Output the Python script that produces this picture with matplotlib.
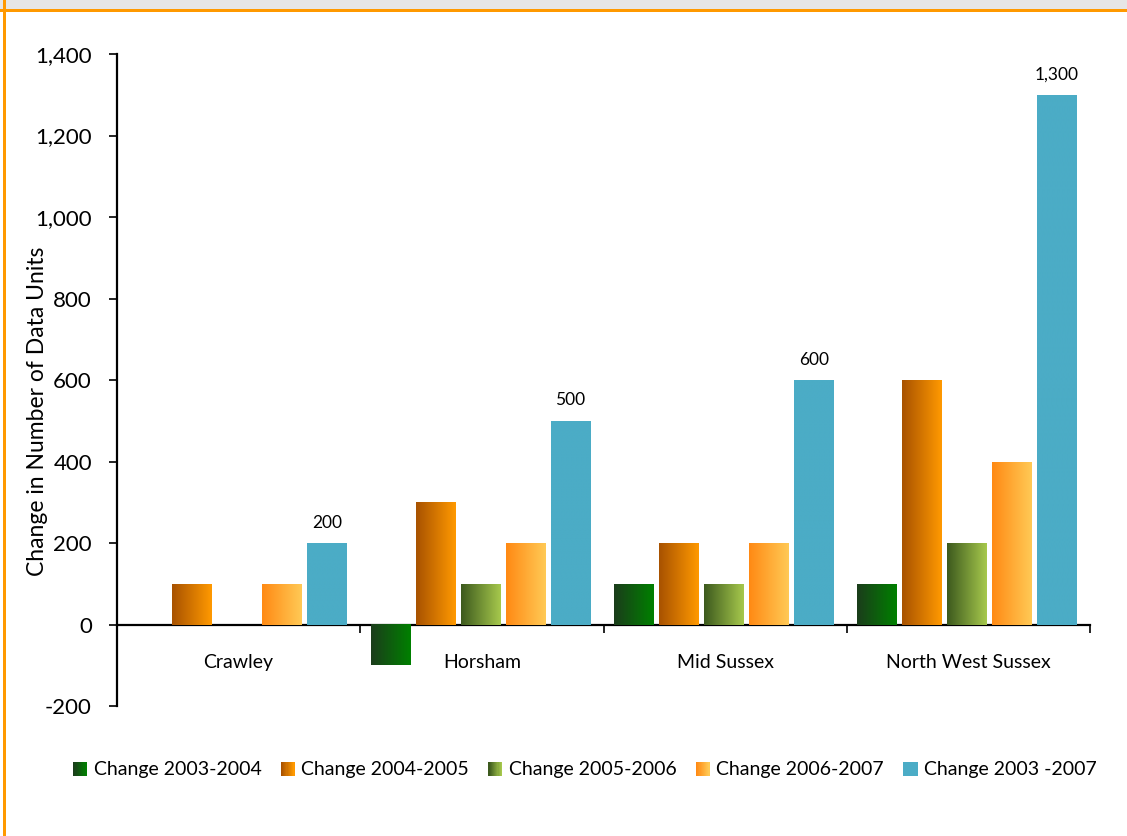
import matplotlib
matplotlib.use("Agg")
import matplotlib.pyplot as plt
import numpy as np
from matplotlib.patches import Rectangle
from matplotlib.legend_handler import HandlerBase
from matplotlib.colors import LinearSegmentedColormap, to_rgb

plt.rcParams['font.family'] = ['Lato', 'DejaVu Sans']

# data
districts = ["Crawley", "Horsham", "Mid Sussex", "North West Sussex"]
series = ["Change 2003-2004", "Change 2004-2005", "Change 2005-2006",
          "Change 2006-2007", "Change 2003 -2007"]
chg_0304 = [0, -100, 100, 100]
chg_0405 = [100, 300, 200, 600]
chg_0506 = [0, 100, 100, 200]
chg_0607 = [100, 200, 200, 400]
chg_0307 = [200, 500, 600, 1300]
values = [chg_0304, chg_0405, chg_0506, chg_0607, chg_0307]

# gradient colours (left -> right) per series
grads = [("#1b3d1b", "#008000"),
         ("#a85200", "#ff9900"),
         ("#3d5a1e", "#a6c84c"),
         ("#ff8a14", "#ffc955"),
         ("#4bacc6", "#4bacc6")]


class GradHandler(HandlerBase):
    def __init__(self, c0, c1):
        super().__init__()
        self.c0, self.c1 = np.array(to_rgb(c0)), np.array(to_rgb(c1))

    def create_artists(self, legend, orig_handle, xdescent, ydescent,
                       width, height, fontsize, trans):
        n = 12
        arts = []
        for k in range(n):
            c = np.clip(self.c0 + (self.c1 - self.c0) * k / (n - 1), 0, 1)
            r = Rectangle((-xdescent + width * k / n, -ydescent), width / n + 0.3,
                          height, facecolor=tuple(c), edgecolor='none', transform=trans)
            arts.append(r)
        return arts


fig = plt.figure(figsize=(11.27, 8.36), dpi=100)
ax = fig.add_axes([0.1038, 0.1555, 0.8634, 0.7799])

x = np.arange(len(districts))
step = 0.185
width = 0.162
handles = []
for i, (vals, (c0, c1)) in enumerate(zip(values, grads)):
    bars = ax.bar(x + (i - 2) * step - 0.006, vals, width, color=c1, edgecolor='none',
                  label=series[i], zorder=2)
    handles.append(bars)
    cmap = LinearSegmentedColormap.from_list("g%d" % i, [c0, c1])
    grad = np.linspace(0, 1, 64).reshape(1, -1)
    for p in bars.patches:
        if p.get_height() == 0:
            continue
        x0, y0 = p.get_x(), p.get_y()
        x1, y1 = x0 + p.get_width(), y0 + p.get_height()
        ax.imshow(grad, cmap=cmap, extent=(x0, x1, min(y0, y1), max(y0, y1)),
                  aspect='auto', zorder=3, interpolation='bilinear')
    if i == 4:
        for xi, v in zip(x + (i - 2) * step - 0.006, vals):
            ax.annotate(f"{v:,}", (xi, v), xytext=(0, 9), textcoords='offset points',
                        ha='center', va='bottom', fontsize=12.5)

ax.set_xlim(-0.5, 3.5)
ax.set_ylim(-200, 1400)
ax.set_yticks(range(-200, 1401, 200))
ax.set_yticklabels([f"{v:,}" for v in range(-200, 1401, 200)], fontsize=16)
ax.set_ylabel("Change in Number of Data Units", fontsize=16.5)
ax.yaxis.set_label_coords(-0.071, 0.452)

ax.spines['top'].set_visible(False)
ax.spines['right'].set_visible(False)
ax.spines['bottom'].set_position(('data', 0))
ax.spines['bottom'].set_linewidth(1.6)
ax.spines['left'].set_linewidth(1.6)
ax.tick_params(axis='y', length=6, width=1.2, direction='out', pad=12)

# category separators as ticks, labels as minor ticks
ax.set_xticks(np.arange(-0.5, 4, 1.0))
ax.set_xticklabels([])
ax.tick_params(axis='x', which='major', length=6, width=1.2, direction='out')
ax.set_xticks(x, minor=True)
ax.set_xticklabels(districts, minor=True, fontsize=14)
ax.tick_params(axis='x', which='minor', length=0, pad=21)

fig.legend([h for h in handles], series, loc='center', ncol=5,
           bbox_to_anchor=(0.519, 0.079), frameon=False, fontsize=14,
           handlelength=0.7, handleheight=0.75, handletextpad=0.35, columnspacing=1.0,
           handler_map={h: GradHandler(*g) for h, g in zip(handles, grads)})

# page decoration
fig.patches.append(Rectangle((0, 1 - 9 / 836), 1, 9 / 836, transform=fig.transFigure,
                             facecolor='#e6e6e6', edgecolor='none', zorder=0))
fig.patches.append(Rectangle((0, 1 - 12 / 836), 1, 3 / 836, transform=fig.transFigure,
                             facecolor='#ff9900', edgecolor='none', zorder=1))
fig.patches.append(Rectangle((3 / 1127, 0), 3 / 1127, 1, transform=fig.transFigure,
                             facecolor='#ff9900', edgecolor='none', zorder=1))

fig.savefig("out.png", dpi=100)
